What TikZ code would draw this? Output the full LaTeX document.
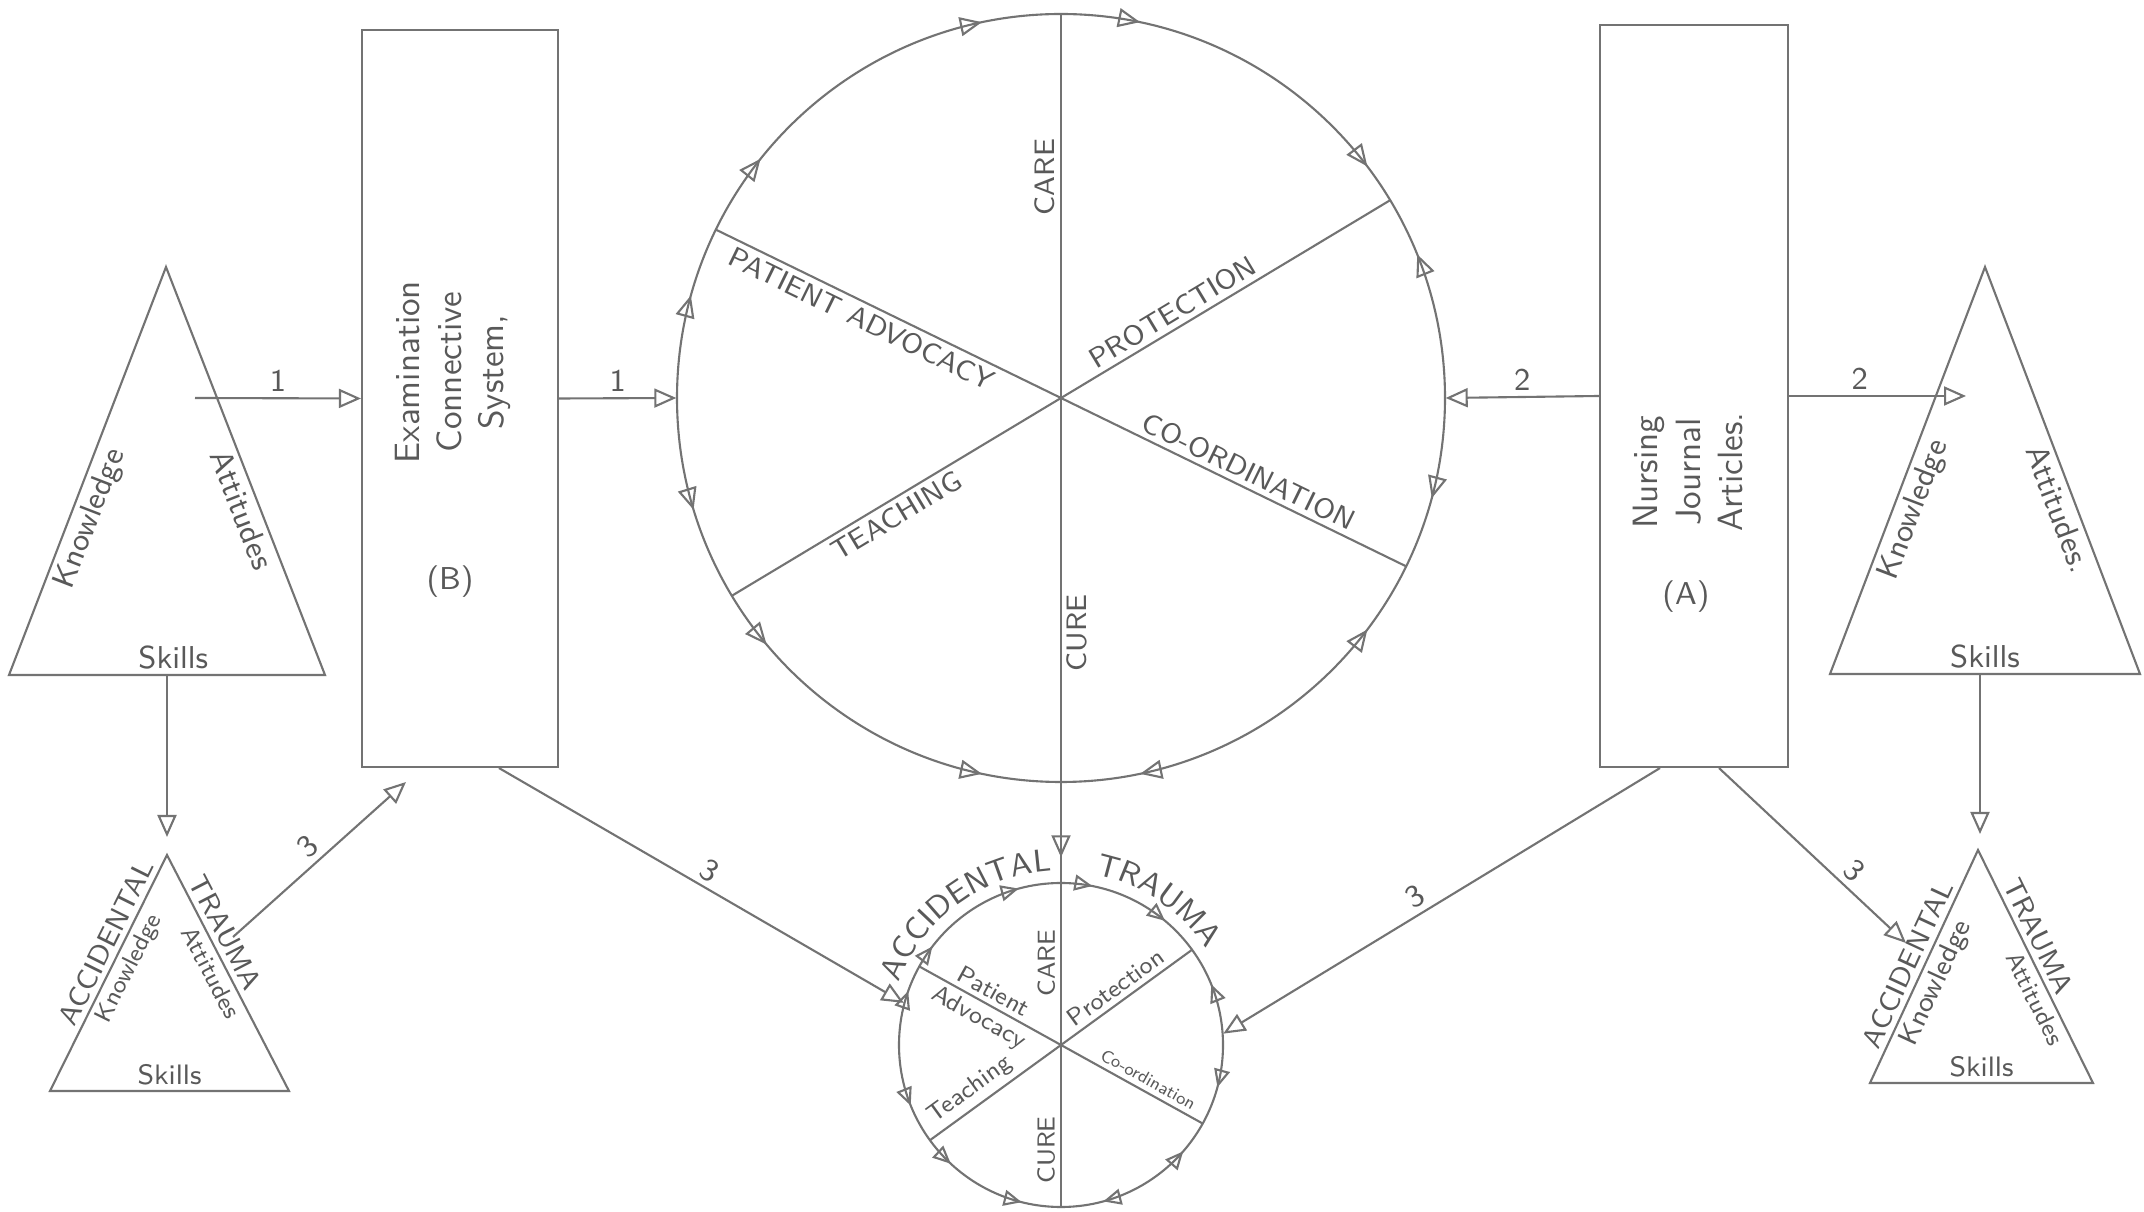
\documentclass[tikz,border=0pt]{standalone}
\usepackage{tikz}
\usetikzlibrary{arrows.meta,decorations.markings,decorations.text}

\begin{document}
\begin{tikzpicture}[
		>={Triangle[open,length=2.2mm,width=1.9mm]},
		pencil/.style={draw=black!55, line width=0.6pt},
		lbl/.style={text=black!65, inner sep=1.5pt, font=\sffamily#1},
		lbl/.default=\normalsize,
		ccwtip/.style={postaction={decorate, decoration={markings, mark=at position #1 with {\arrow{>}}}}},
		cwtip/.style={postaction={decorate, decoration={markings, mark=at position #1 with {\arrowreversed{>}}}}}
	]
	\useasboundingbox (0,0) rectangle (21.44,12.12);

	\coordinate (t1a) at (1.66,9.45);
	\coordinate (t1l) at (0.09,5.37);
	\coordinate (t1r) at (3.25,5.37);
	\coordinate (t1b) at (1.67,5.37);
	\coordinate (t1out) at (1.95,8.14);
	\draw[pencil] (t1a) -- (t1l) -- (t1r) -- cycle;
	\path (t1l) -- node[lbl=\small, sloped, below, pos=0.4] (t1know) {Knowledge} (t1a);
	\path (t1a) -- node[lbl=\small, sloped, below, pos=0.58] (t1att) {Attitudes} (t1r);
	\path (t1l) -- node[lbl=\small, above, pos=0.52] (t1skill) {Skills} (t1r);

	\coordinate (t2a) at (1.67,3.57);
	\coordinate (t2l) at (0.50,1.21);
	\coordinate (t2r) at (2.89,1.21);
	\coordinate (t2in) at (1.67,3.75);
	\coordinate (t2out) at (2.33,2.75);
	\draw[pencil] (t2a) -- (t2l) -- (t2r) -- cycle;
	\path (t2l) -- node[lbl=\footnotesize, sloped, above, pos=0.6] (t2acc) {ACCIDENTAL} (t2a);
	\path (t2l) -- node[lbl=\scriptsize, sloped, below, pos=0.55] (t2know) {Knowledge} (t2a);
	\path (t2a) -- node[lbl=\footnotesize, sloped, above, pos=0.36] (t2tra) {TRAUMA} (t2r);
	\path (t2a) -- node[lbl=\scriptsize, sloped, below, pos=0.47] (t2att) {Attitudes} (t2r);
	\path (t2l) -- node[lbl=\footnotesize, above, pos=0.5] (t2skill) {Skills} (t2r);
	\draw[pencil, ->] (t1b) -- (t2in);

	\node[pencil, minimum width=1.96cm, minimum height=7.37cm] (exam) at (4.60,8.135) {};
	\node[lbl, rotate=90, align=center] (examtext) at (4.53,8.40) {Examination\\Connective\\System,};
	\node[lbl=\small] (examB) at (4.50,6.30) {(B)};
	\coordinate (examin) at (4.06,4.30);
	\draw[pencil, ->] (t1out) -- node[lbl=\small, above] (one1) {1} (exam.west);
	\draw[pencil, ->] (t2out) -- node[lbl=\small, sloped, above] (three1) {3} (examin);

	\node[circle, minimum size=7.68cm, inner sep=0pt] (wheel) at (10.61,8.14) {};
	\draw[pencil, cwtip/.list={0.283,0.217,0.103,0.958,0.783,0.457,0.393}, ccwtip/.list={0.061,0.897,0.717,0.611,0.547}] (wheel.center) circle (3.84);
	\draw[pencil] (wheel.90) -- (wheel.270);
	\draw[pencil] (wheel.154) -- (wheel.334);
	\draw[pencil] (wheel.31) -- (wheel.211);
	\node[lbl=\footnotesize, rotate=90, anchor=south] (care) at ([shift={(90:2.21)}]wheel.center) {CARE};
	\node[lbl=\footnotesize, rotate=90, anchor=north] (cure) at ([shift={(270:2.35)}]wheel.center) {CURE};
	\node[lbl=\footnotesize, rotate=-26, anchor=north] (advocacy) at ([shift={(154:2.14)}]wheel.center) {PATIENT ADVOCACY};
	\node[lbl=\footnotesize, rotate=31, anchor=south] (protection) at ([shift={(31:1.40)}]wheel.center) {PROTECTION};
	\node[lbl=\footnotesize, rotate=-26, anchor=south] (coordination) at ([shift={(334:2.01)}]wheel.center) {CO-ORDINATION};
	\node[lbl=\footnotesize, rotate=31, anchor=north] (teaching) at ([shift={(211:2.02)}]wheel.center) {TEACHING};
	\draw[pencil, ->] (exam.east) -- node[lbl=\small, above] (one2) {1} (wheel.west);

	\node[pencil, minimum width=1.88cm, minimum height=7.42cm] (nurse) at (16.94,8.16) {};
	\node[lbl, rotate=90, align=center] (nursetext) at (16.88,7.40) {Nursing\\Journal\\Articles.};
	\node[lbl=\small] (nurseA) at (16.86,6.15) {(A)};
	\draw[pencil, ->] (nurse.west) -- node[lbl=\small, above] (two1) {2} (wheel.east);

	\coordinate (t3a) at (19.85,9.45);
	\coordinate (t3l) at (18.30,5.38);
	\coordinate (t3r) at (21.40,5.38);
	\coordinate (t3b) at (19.80,5.38);
	\coordinate (t3in) at (19.66,8.16);
	\draw[pencil] (t3a) -- (t3l) -- (t3r) -- cycle;
	\path (t3l) -- node[lbl=\small, sloped, below, pos=0.42] (t3know) {Knowledge} (t3a);
	\path (t3a) -- node[lbl=\small, sloped, below, pos=0.58] (t3att) {Attitudes.} (t3r);
	\path (t3l) -- node[lbl=\small, above, pos=0.5] (t3skill) {Skills} (t3r);
	\draw[pencil, ->] (nurse.east) -- node[lbl=\small, above, pos=0.4] (two2) {2} (t3in);

	\coordinate (t4a) at (19.78,3.62);
	\coordinate (t4l) at (18.70,1.29);
	\coordinate (t4r) at (20.93,1.29);
	\coordinate (t4top) at (19.80,3.78);
	\coordinate (t4side) at (19.06,2.69);
	\draw[pencil] (t4a) -- (t4l) -- (t4r) -- cycle;
	\path (t4l) -- node[lbl=\footnotesize, sloped, above, pos=0.48] (t4acc) {ACCIDENTAL} (t4a);
	\path (t4l) -- node[lbl=\footnotesize, sloped, below, pos=0.46] (t4know) {Knowledge} (t4a);
	\path (t4a) -- node[lbl=\footnotesize, sloped, above, pos=0.4] (t4tra) {TRAUMA} (t4r);
	\path (t4a) -- node[lbl=\scriptsize, sloped, below, pos=0.61] (t4att) {Attitudes} (t4r);
	\path (t4l) -- node[lbl=\footnotesize, above, pos=0.5] (t4skill) {Skills} (t4r);
	\draw[pencil, ->] (t3b) -- (t4top);
	\draw[pencil, ->] ([xshift=2.5mm]nurse.south) -- node[lbl=\small, sloped, above, pos=0.66] (three4) {3} (t4side);

	\node[circle, minimum size=3.24cm, inner sep=0pt] (hub) at (10.61,1.67) {};
	\draw[pencil, >={Triangle[open,length=1.8mm,width=1.6mm]}, cwtip/.list={0.292,0.219,0.139,0.958,0.792,0.446,0.396}, ccwtip/.list={0.061,0.886,0.711,0.631,0.561}] (hub.center) circle (1.62);
	\draw[pencil] (wheel.270) -- (hub.270);
	\draw[pencil, ->] (wheel.270) -- ([yshift=2.5mm]hub.90);
	\draw[pencil] (hub.151) -- (hub.331);
	\draw[pencil] (hub.36) -- (hub.216);
	\node[lbl=\scriptsize, rotate=90, anchor=south] (hubcare) at ([shift={(90:0.82)}]hub.center) {CARE};
	\node[lbl=\scriptsize, rotate=90, anchor=south] (hubcure) at ([shift={(270:1.05)}]hub.center) {CURE};
	\node[lbl=\scriptsize, rotate=-29, anchor=south] (hubpat) at ([shift={(151:0.85)}]hub.center) {Patient};
	\node[lbl=\scriptsize, rotate=-29, anchor=north] (hubadv) at ([shift={(151:0.85)}]hub.center) {Advocacy};
	\node[lbl=\scriptsize, rotate=36, anchor=south] (hubprot) at ([shift={(36:0.78)}]hub.center) {Protection};
	\node[lbl=\tiny, rotate=-29, anchor=south] (hubcoord) at ([shift={(331:0.93)}]hub.center) {Co-ordination};
	\node[lbl=\scriptsize, rotate=36, anchor=south] (hubteach) at ([shift={(216:1.0)}]hub.center) {Teaching};
	\path[decorate, decoration={text along path, text align=center, text color=black!65, text={|\sffamily\small|ACCIDENTAL}}] ([shift={(162:1.74)}]hub.center) arc[start angle=162, end angle=90, radius=1.74];
	\path[decorate, decoration={text along path, text align=center, text color=black!65, text={|\sffamily\small|TRAUMA}}] ([shift={(84:1.74)}]hub.center) arc[start angle=84, end angle=28, radius=1.74];

	\draw[pencil, ->] ([xshift=3.9mm]exam.south) -- node[lbl=\small, sloped, above] (three2) {3} (hub.165);
	\draw[pencil, ->] ([xshift=-3.4mm]nurse.south) -- node[lbl=\small, sloped, above, pos=0.54] (three3) {3} (hub.4);
\end{tikzpicture}
\end{document}
